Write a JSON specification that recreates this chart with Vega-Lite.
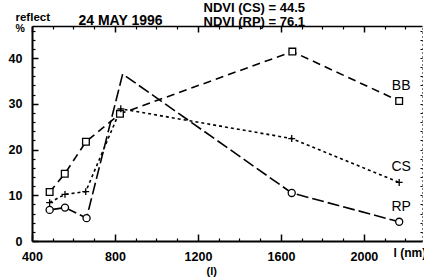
{
  "$schema": "https://vega.github.io/schema/vega-lite/v6.json",
  "width": 390,
  "height": 215,
  "autosize": "none",
  "padding": {"left": 32, "top": 26, "right": 2, "bottom": 39},
  "background": "white",
  "config": {
    "view": {"stroke": null},
    "font": "Liberation Sans",
    "axis": {"domainColor": "black", "tickColor": "black", "labelColor": "black", "titleColor": "black", "grid": false, "labelFont": "Liberation Sans", "titleFont": "Liberation Sans"}
  },
  "data": {
    "values": [
      {"s": "BB", "wl": 485, "r": 10.7},
      {"s": "BB", "wl": 558, "r": 14.7},
      {"s": "BB", "wl": 660, "r": 21.7},
      {"s": "BB", "wl": 824, "r": 27.8},
      {"s": "BB", "wl": 1655, "r": 41.4},
      {"s": "BB", "wl": 2170, "r": 30.6},
      {"s": "CS", "wl": 485, "r": 8.4},
      {"s": "CS", "wl": 559, "r": 10.2},
      {"s": "CS", "wl": 659, "r": 10.8},
      {"s": "CS", "wl": 828, "r": 28.9},
      {"s": "CS", "wl": 1652, "r": 22.4},
      {"s": "CS", "wl": 2170, "r": 12.8},
      {"s": "RP", "wl": 485, "r": 6.8},
      {"s": "RP", "wl": 559, "r": 7.3},
      {"s": "RP", "wl": 663, "r": 5.0},
      {"s": "RP", "wl": 837, "r": 36.5},
      {"s": "RP", "wl": 1652, "r": 10.5},
      {"s": "RP", "wl": 2170, "r": 4.2}
    ]
  },
  "resolve": {"axis": {"x": "independent", "y": "independent"}},
  "layer": [
    {
      "mark": {"type": "line", "strokeWidth": 1.6, "color": "black", "clip": false},
      "encoding": {
        "x": {"field": "wl", "type": "quantitative", "scale": {"domain": [400, 2280], "nice": false, "zero": false},
          "axis": {"orient": "bottom", "values": [400, 800, 1200, 1600, 2000], "format": "d", "tickSize": -7, "tickWidth": 1.5, "domainWidth": 2, "labelFontSize": 12.5, "labelFontWeight": "bold", "labelPadding": 16, "labelFlush": false,
            "title": "l (nm)", "titleFontSize": 12, "titleFontWeight": "bold", "titleX": 361, "titleY": 15, "titleAlign": "left", "titleBaseline": "alphabetic", "titleAnchor": null}},
        "y": {"field": "r", "type": "quantitative", "scale": {"domain": [0, 47], "nice": false, "zero": true},
          "axis": {"orient": "left", "values": [0, 10, 20, 30, 40], "tickSize": -6, "tickWidth": 1.5, "domainWidth": 2, "labelFontSize": 12.5, "labelFontWeight": "bold", "labelPadding": 16, "labelFlush": false,
            "title": "reflect", "titleFontSize": 11.5, "titleFontWeight": "bold", "titleAngle": 0, "titleX": -17, "titleY": -6, "titleAlign": "left", "titleBaseline": "alphabetic", "titleAnchor": null}},
        "detail": {"field": "s"},
        "strokeDash": {"field": "s", "type": "nominal", "scale": {"domain": ["BB", "CS", "RP"], "range": [[8, 5], [3, 3], [12, 4]]}, "legend": null}
      }
    },
    {
      "transform": [{"filter": "!(datum.s == 'RP' && datum.wl == 837)"}],
      "mark": {"type": "point", "filled": false, "stroke": "black", "fill": "white", "fillOpacity": 1, "strokeWidth": 1.3, "opacity": 1, "clip": false},
      "encoding": {
        "x": {"field": "wl", "type": "quantitative", "scale": {"domain": [400, 2280], "nice": false, "zero": false},
          "axis": {"orient": "bottom", "values": [500, 600, 700, 900, 1000, 1100, 1300, 1400, 1500, 1700, 1800, 1900, 2100, 2200], "tickSize": -3, "tickWidth": 1.2, "domain": false, "labels": false,
            "title": "(l)", "titleFontSize": 11, "titleFontWeight": "bold", "titleX": 174, "titleY": 33, "titleAlign": "left", "titleBaseline": "alphabetic", "titleAnchor": null}},
        "y": {"field": "r", "type": "quantitative", "scale": {"domain": [0, 47], "nice": false, "zero": true},
          "axis": {"orient": "left", "values": [2, 4, 6, 8, 12, 14, 16, 18, 22, 24, 26, 28, 32, 34, 36, 38, 42, 44, 46], "tickSize": -3, "tickWidth": 1.2, "domain": false, "labels": false,
            "title": "%", "titleFontSize": 10.5, "titleFontWeight": "bold", "titleAngle": 0, "titleX": -17, "titleY": 5, "titleAlign": "left", "titleBaseline": "alphabetic", "titleAnchor": null}},
        "shape": {"field": "s", "type": "nominal", "scale": {"domain": ["BB", "CS", "RP"], "range": ["square", "M-1,0L1,0M0,-1L0,1", "circle"]}, "legend": null},
        "size": {"field": "s", "type": "nominal", "scale": {"domain": ["BB", "CS", "RP"], "range": [45, 50, 25]}, "legend": null}
      }
    },
    {
      "transform": [{"filter": "datum.wl == 2170"}],
      "mark": {"type": "text", "fontSize": 14, "font": "Liberation Sans", "dy": -15, "dx": 2, "baseline": "middle", "align": "center", "color": "black"},
      "encoding": {
        "x": {"field": "wl", "type": "quantitative", "scale": {"domain": [400, 2280], "nice": false, "zero": false},
          "axis": {"orient": "top", "values": [400, 800, 1200, 1600, 2000], "tickSize": -6, "tickWidth": 1.5, "domainWidth": 1.5, "labels": false,
            "title": "24 MAY 1996", "titleFontSize": 14, "titleFontWeight": "bold", "titleX": 46, "titleY": -2, "titleAlign": "left", "titleBaseline": "alphabetic", "titleAnchor": null}},
        "y": {"field": "r", "type": "quantitative", "scale": {"domain": [0, 47], "nice": false, "zero": true},
          "axis": {"orient": "right", "values": [2, 4, 6, 8, 10, 12, 14, 16, 18, 20, 22, 24, 26, 28, 30, 32, 34, 36, 38, 40, 42, 44, 46], "tickSize": -2, "tickWidth": 1, "domainDash": [1, 3], "domainWidth": 1, "labels": false, "title": null}},
        "text": {"field": "s"}
      }
    },
    {
      "mark": {"type": "point", "opacity": 0},
      "encoding": {
        "x": {"field": "wl", "type": "quantitative", "scale": {"domain": [400, 2280], "nice": false, "zero": false},
          "axis": {"orient": "top", "values": [500, 600, 700, 900, 1000, 1100, 1300, 1400, 1500, 1700, 1800, 1900, 2100, 2200], "tickSize": -3, "tickWidth": 1.2, "domain": false, "labels": false,
            "title": ["NDVI (CS) = 44.5", "NDVI (RP) = 76.1"], "titleFontSize": 13, "titleFontWeight": "bold", "titleLineHeight": 14, "titleX": 171, "titleY": -15, "titleAlign": "left", "titleBaseline": "alphabetic", "titleAnchor": null}},
        "y": {"field": "r", "type": "quantitative", "scale": {"domain": [0, 47], "nice": false, "zero": true}, "axis": null}
      }
    }
  ]
}
